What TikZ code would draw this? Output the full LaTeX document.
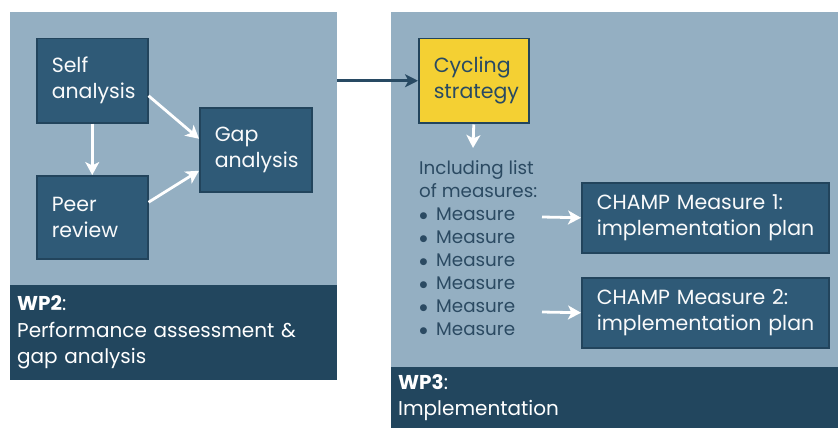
\documentclass[tikz,border=0pt]{standalone}
\usepackage{fontspec}
\setmainfont{Poppins}
\newfontfamily\symfont{DejaVu Sans}
\usetikzlibrary{arrows.meta,calc}
\definecolor{panelbg}{HTML}{94AFC2}
\definecolor{bandbg}{HTML}{22465E}
\definecolor{boxfill}{HTML}{2F5A77}
\definecolor{boxline}{HTML}{22445C}
\definecolor{listtext}{HTML}{2B4A62}
\definecolor{stratfill}{HTML}{F4D033}
\definecolor{linkdark}{HTML}{284A63}
% bullet of the measures list
\newcommand\measuredot{\makebox[17pt][l]{\hspace{0.5pt}\raisebox{1.5pt}{\symfont\fontsize{9}{9}\selectfont ●}}}
\tikzset{
  panelbox/.style={fill=panelbg, draw=none, inner sep=0pt, anchor=north west},
  bandbox/.style={fill=bandbg, draw=none, anchor=north west, text=white,
    align=left, inner xsep=7pt, inner ysep=0pt,
    font=\fontsize{20}{26.5}\selectfont},
  stepbox/.style={fill=boxfill, draw=boxline, line width=1.5pt, anchor=north west,
    text=white!94!panelbg, align=left, inner xsep=15pt, inner ysep=0pt,
    font=\fontsize{20.5}{26}\selectfont},
  stratbox/.style={stepbox, fill=stratfill, text=linkdark},
  whitearrow/.style={draw=white, line width=2.8pt,
    -{Stealth[length=13pt,width=14pt,inset=3.5pt]}},
  darkarrow/.style={draw=linkdark, line width=2.8pt,
    -{Stealth[length=13pt,width=13pt,inset=3.5pt]}},
}
\begin{document}
\begin{tikzpicture}[x=1pt,y=-1pt]
\useasboundingbox (0,0) rectangle (838,428);
\fill[white] (0,0) rectangle (838,428);

% work package 2 panel
\node[panelbox, minimum width=327pt, minimum height=368pt] (wp2) at (10,12) {};
\node[bandbox, minimum width=327pt, minimum height=95pt, text width=313pt] (wp2band) at (10,285)
  {\textbf{WP2}:\\Performance assessment \&\\gap analysis};

% work package 3 panel
\node[panelbox, minimum width=447pt, minimum height=416pt] (wp3) at (391,12) {};
\node[bandbox, minimum width=447pt, minimum height=61pt, text width=433pt] (wp3band) at (391,367)
  {\textbf{WP3}:\\Implementation};

% WP2 steps
\node[stepbox, minimum width=111pt, minimum height=84pt, text width=81pt] (self) at (36,38)
  {Self\\analysis};
\node[stepbox, minimum width=111pt, minimum height=83pt, text width=81pt] (peer) at (36,175)
  {Peer\\review};
\node[stepbox, minimum width=112pt, minimum height=84pt, text width=82pt] (gap) at (199,107)
  {Gap\\analysis};

\draw[whitearrow] (self.south) -- (peer.north);
\draw[whitearrow] ($(self.east)+(0,15)$) -- ($(gap.west)+(0,-11)$);
\draw[whitearrow] ($(peer.east)+(0,-15)$) -- ($(gap.west)+(0,21)$);

% WP3 content
\node[stratbox, minimum width=110pt, minimum height=84pt, text width=80pt] (strat) at (418,38)
  {Cycling\\strategy};
\node[anchor=north west, inner sep=0pt, align=left, text=listtext,
  font=\fontsize{18.3}{23}\selectfont] (list) at (419,160)
  {Including list\\of measures:\\
   \measuredot Measure\\\measuredot Measure\\\measuredot Measure\\
   \measuredot Measure\\\measuredot Measure\\\measuredot Measure};
\coordinate (listtop) at (473,148);
\node[stepbox, minimum width=247pt, minimum height=70pt, text width=217pt] (m1) at (581,182)
  {\mbox{CHAMP Measure 1:}\\\mbox{implementation plan}};
\node[stepbox, minimum width=247pt, minimum height=70pt, text width=217pt] (m2) at (581,277)
  {\mbox{CHAMP Measure 2:}\\\mbox{implementation plan}};

\coordinate (m1src) at (542,217);
\coordinate (m2src) at (542,312);
\draw[whitearrow] ($(strat.south)+(0,1)$) -- (listtop);
\draw[whitearrow] (m1src) -- (m1.west);
\draw[whitearrow] (m2src) -- (m2.west);

% link between the work packages
\draw[darkarrow] (wp2.east |- strat.west) -- (strat.west);
\end{tikzpicture}
\end{document}
